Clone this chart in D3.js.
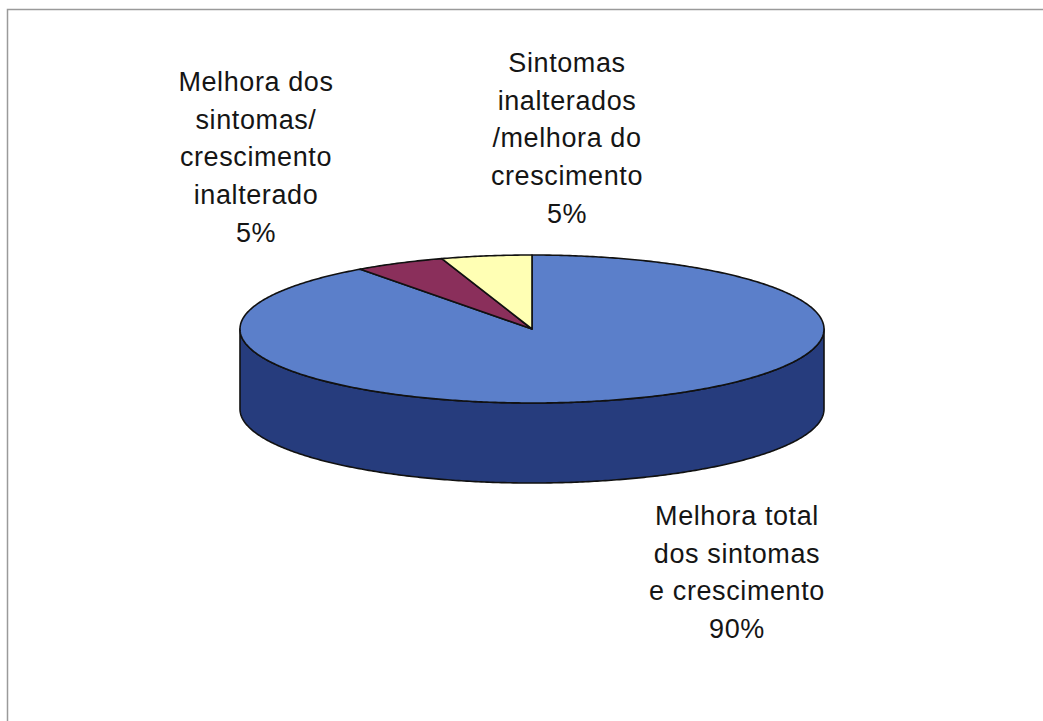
<!DOCTYPE html>
<html>
<head>
<meta charset="utf-8">
<script src="https://cdn.jsdelivr.net/npm/d3@7"></script>
<style>
  html, body { margin: 0; padding: 0; background: #fff; }
  svg { display: block; }
  text { font-family: "Liberation Sans", Arial, sans-serif; fill: #151515; }
</style>
</head>
<body>
<svg id="chart" width="1043" height="721"></svg>
<script>
// Slices, in clockwise order starting at 12 o'clock
const categories = [
  "Melhora total dos sintomas e crescimento",
  "Melhora dos sintomas/ crescimento inalterado",
  "Sintomas inalterados /melhora do crescimento"
];
const values = [90, 5, 5];
const labelLines = [
  ["Melhora total", "dos sintomas", "e crescimento"],
  ["Melhora dos", "sintomas/", "crescimento", "inalterado"],
  ["Sintomas", "inalterados", "/melhora do", "crescimento"]
];
const topColors  = ["#5b7fca", "#8a2f5b", "#ffffb4"];
const sideColors = ["#263c7d", "#5a1d3b", "#b3b37c"];

// Label block anchors (centre x, first baseline y)
const labelAnchors = [[737, 525], [256, 91], [567, 72]];
const lineHeight = 37.7;

const svg = d3.select("#chart");

// Chart area frame
svg.append("rect")
  .attr("x", 7.5).attr("y", 9.5)
  .attr("width", 1100).attr("height", 800)
  .attr("fill", "none")
  .attr("stroke", "#9a9a9a")
  .attr("stroke-width", 1.5);

// Tilted pie geometry
const cx = 532, cy = 329, rx = 292, ry = 74, depth = 80;
const total = d3.sum(values);

const pie = d3.pie().sort(null).value(d => d).startAngle(0).endAngle(2 * Math.PI);
const arcs = pie(values);

// Angle -> point on the projected ellipse (angle measured clockwise from top)
const px = a => cx + rx * Math.sin(a);
const py = a => cy - ry * Math.cos(a);

function samples(a0, a1) {
  const n = Math.max(2, Math.ceil((a1 - a0) / 0.01));
  return d3.range(n + 1).map(i => a0 + (a1 - a0) * i / n);
}

const line = d3.line();

// Side walls: only the front half (angles between pi/2 and 3pi/2) is visible
const sideG = svg.append("g");
arcs.forEach((d, i) => {
  const a0 = Math.max(d.startAngle, Math.PI / 2);
  const a1 = Math.min(d.endAngle, 3 * Math.PI / 2);
  if (a1 <= a0) return;
  const as = samples(a0, a1);
  const topEdge = as.map(a => [px(a), py(a)]);
  const botEdge = as.slice().reverse().map(a => [px(a), py(a) + depth]);
  sideG.append("path")
    .attr("d", line(topEdge.concat(botEdge)) + "Z")
    .attr("fill", sideColors[i])
    .attr("stroke", "#111")
    .attr("stroke-width", 1.6)
    .attr("stroke-linejoin", "round");
});

// Top faces
const topG = svg.append("g");
arcs.forEach((d, i) => {
  const pts = [[cx, cy]].concat(samples(d.startAngle, d.endAngle).map(a => [px(a), py(a)]));
  topG.append("path")
    .attr("d", line(pts) + "Z")
    .attr("fill", topColors[i])
    .attr("stroke", "#111")
    .attr("stroke-width", 1.6)
    .attr("stroke-linejoin", "round");
});

// Data labels: category lines followed by the percentage
const labelG = svg.append("g");
arcs.forEach((d, i) => {
  const pct = Math.round(d.data / total * 100) + "%";
  const lines = labelLines[i].concat([pct]);
  const [lx, ly] = labelAnchors[i];
  const t = labelG.append("text")
    .attr("text-anchor", "middle")
    .attr("font-size", 27)
    .attr("letter-spacing", 0.6);
  lines.forEach((s, k) => {
    t.append("tspan").attr("x", lx).attr("y", ly + k * lineHeight).text(s);
  });
});
</script>
</body>
</html>
